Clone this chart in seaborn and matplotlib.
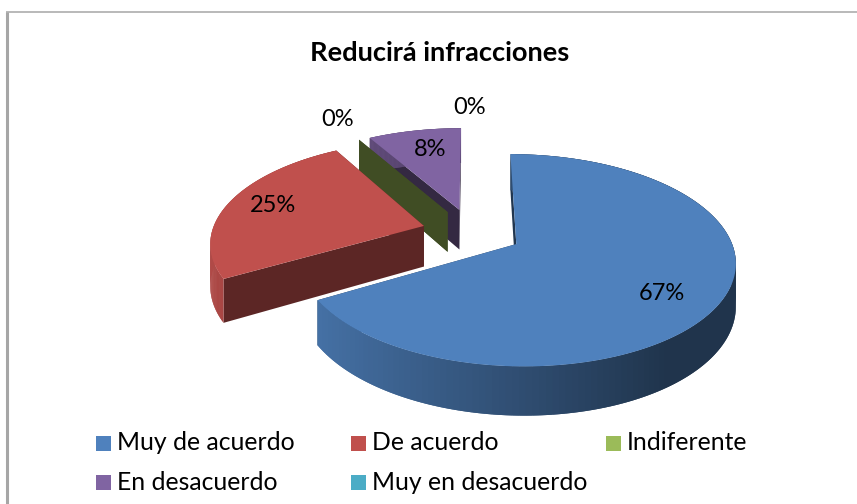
import matplotlib
matplotlib.use("Agg")
import matplotlib.pyplot as plt
from matplotlib.colors import to_rgb
import numpy as np
import seaborn as sns

title = "Reducirá infracciones"
categories = ["Muy de acuerdo", "De acuerdo", "Indiferente", "En desacuerdo", "Muy en desacuerdo"]
responses = [8, 3, 0, 1, 0]
percent_labels = ["67%", "25%", "0%", "8%", "0%"]
colors = ["#4F81BD", "#C0504D", "#9BBB59", "#8064A2", "#4BACC6"]
wall_dark = [0.42, 0.48, 0.41, 0.41, 0.42]

sns.set_theme(style="white")
plt.rcParams['font.family'] = ['Lato', 'DejaVu Sans']
palette = sns.color_palette(colors)

# fake 3d view, perspective fitted by eye
X0, Y0 = 472, 232
A, B, C = 212, 100, 41
P = 0.15
EXPLODE = 0.237
label_xy = [(662, 293), (273, 206), (338, 120), (430, 150), (470, 108)]


def project(u, v, z=0.0):
    scale = 1 - P * np.asarray(v)
    return X0 + A * np.asarray(u) / scale, Y0 + (B * np.asarray(v) + C * z) / scale


def shade(color, f):
    return tuple(np.array(to_rgb(color)) * f)


def rim_factor(u):
    return np.interp(u, [-1, 0, 0.6, 1], [0.92, 0.6, 0.4, 0.4])


def wall(ax, ou, ov, theta, color, dark):
    u, v = ou + np.sin(theta), ov - np.cos(theta)
    x1, y1 = project([ou, u], [ov, v], 0)
    x2, y2 = project([u, ou], [v, ov], 1)
    ax.fill(np.r_[x1, x2], np.r_[y1, y2], color=shade(color, dark), lw=0)


def draw_slice(ax, start, end, color, dark):
    mid = (start + end) / 2
    ou, ov = EXPLODE * np.sin(mid), -EXPLODE * np.cos(mid)
    wall(ax, ou, ov, end, color, dark)
    wall(ax, ou, ov, start, color, dark)
    if end == start:
        return
    th = np.linspace(start, end, 160)
    u, v = ou + np.sin(th), ov - np.cos(th)
    xt, yt = project(u, v, 0)
    xb, yb = project(u, v, 1)
    # quads overlap by one step, otherwise the antialiasing leaves stripes
    for i in range(len(th) - 1):
        j = min(i + 2, len(th) - 1)
        f = rim_factor(np.sin(th[i]))
        ax.fill([xt[i], xt[j], xb[j], xb[i]], [yt[i], yt[j], yb[j], yb[i]],
                color=shade(color, f), lw=0)
    xa, ya = project(ou, ov, 0)
    ax.fill(np.r_[xa, xt], np.r_[ya, yt], color=color, lw=0)


fig = plt.figure(figsize=(8.57, 5.04), dpi=100)
ax = fig.add_axes([0, 0, 1, 1])
ax.set_xlim(0, 857)
ax.set_ylim(504, 0)
ax.axis("off")

# chart frame, cropped on right and bottom
ax.plot([7, 7], [504, 12], color="#a6a6a6", lw=2.2, solid_capstyle="butt")
ax.plot([6, 857], [12, 12], color="#a6a6a6", lw=1.1, solid_capstyle="butt")

fractions = np.array(responses) / sum(responses)
edges = np.r_[0, np.cumsum(fractions)] * 2 * np.pi
# back to front, painter style
for i in [4, 3, 2, 1, 0]:
    draw_slice(ax, edges[i], edges[i + 1], palette[i], wall_dark[i])

for (x, y), lab in zip(label_xy, percent_labels):
    ax.text(x, y, lab, ha="center", va="center", fontsize=17, color="black")

ax.text(440, 53, title, ha="center", va="center", fontsize=19.6, fontweight="bold", color="black")

# legend by hand, excel keeps equal column widths
for i, name in enumerate(categories):
    col, row = [(0, 0), (1, 0), (2, 0), (0, 1), (1, 1)][i]
    x = 96 + 255 * col
    y = 443 + 39 * row
    ax.fill([x, x + 15, x + 15, x], [y - 7.5, y - 7.5, y + 7.5, y + 7.5], color=palette[i], lw=0)
    ax.text(x + 21, y, name, ha="left", va="center", fontsize=17.8, color="black")

fig.savefig("out.png", dpi=100)
